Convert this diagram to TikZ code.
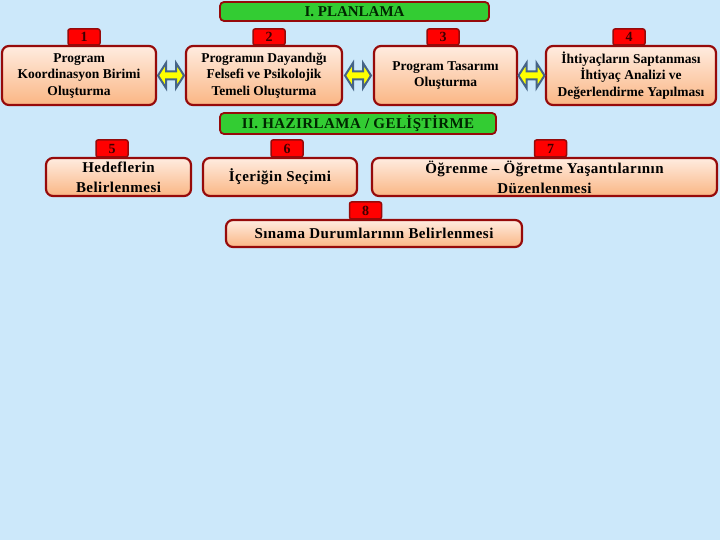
\documentclass[tikz,border=0pt]{standalone}
\usepackage{fontspec}
\setmainfont{Liberation Serif}
\newfontfamily\spacedfont{Liberation Serif}[LetterSpace=3]
\usetikzlibrary{calc}
\definecolor{bg}{RGB}{204,232,250}
\definecolor{dred}{RGB}{150,10,10}
\definecolor{peachtop}{RGB}{255,236,224}
\definecolor{peachbot}{RGB}{250,182,132}
\definecolor{tgreen}{RGB}{51,204,51}
\definecolor{arrowblue}{RGB}{70,100,135}
\definecolor{ayellow}{RGB}{255,255,0}
\definecolor{numcol}{RGB}{60,0,0}
\tikzset{
  box/.style={draw=dred, line width=2.2pt, rounded corners=7pt, top color=peachtop, bottom color=peachbot, align=center, inner sep=0pt, text=black},
  rowone/.style={box, font=\fontsize{13.5}{16.5}\selectfont\bfseries},
  rowtwo/.style={box, font=\spacedfont\fontsize{15}{20}\selectfont\bfseries},
  tabbox/.style={draw=dred, line width=1.5pt, fill=red, rounded corners=2pt, inner sep=0pt, minimum width=32pt, minimum height=16pt, font=\fontsize{14}{14}\selectfont\bfseries, text=numcol},
  titlebox/.style={draw=dred, line width=1.8pt, fill=tgreen, rounded corners=4pt, inner sep=0pt, font=\fontsize{15}{15}\selectfont\bfseries, text=black!85!green}
}
\tikzset{dbl/.style={draw=arrowblue, line width=2pt, fill=ayellow, line join=miter}}
\begin{document}
\begin{tikzpicture}[x=1pt,y=-1pt]
\fill[bg] (0,0) rectangle (720,540);
\useasboundingbox (0,0) rectangle (720,540);

% Title 1
\node[titlebox, minimum width=269pt, minimum height=19pt] (t1) at (354.5,11.5) {I. PLANLAMA};

% Tabs row 1
\node[tabbox] (n1) at (84,37) {1};
\node[tabbox] (n2) at (269,37) {2};
\node[tabbox] (n3) at (443,37) {3};
\node[tabbox] (n4) at (629,37) {4};

% Boxes row 1
\node[rowone, minimum width=154pt, minimum height=59pt] (b1) at (79,75.5) {Program\\Koordinasyon Birimi\\Oluşturma};
\node[rowone, minimum width=156pt, minimum height=59pt] (b2) at (264,75.5) {Programın Dayandığı\\Felsefi ve Psikolojik\\Temeli Oluşturma};
\node[rowone, minimum width=143pt, minimum height=59pt] (b3) at (445.5,75.5) {Program Tasarımı\\Oluşturma};
\node[rowone, minimum width=170pt, minimum height=59pt] (b4) at (631,75.5) {İhtiyaçların Saptanması\\İhtiyaç Analizi ve\\Değerlendirme Yapılması};

% Double arrows
\foreach \a/\b in {b1/b2, b2/b3, b3/b4}{
  \coordinate (m) at ($(\a.east)!0.5!(\b.west)$);
  \draw[dbl, shift={(m)}] (-13,0) -- (-5,-12.5) -- (-5,-4) -- (5,-4) -- (5,-12.5) -- (13,0) -- (5,12.5) -- (5,4) -- (-5,4) -- (-5,12.5) -- cycle;
}

% Title 2
\node[titlebox, minimum width=276pt, minimum height=21pt, font=\spacedfont\fontsize{15}{15}\selectfont\bfseries] (t2) at (358,123.5) {II. HAZIRLAMA / GELİŞTİRME};

% Tabs row 2
\node[tabbox, minimum height=17pt] (n5) at (112,148.5) {5};
\node[tabbox, minimum height=17pt] (n6) at (287,148.5) {6};
\node[tabbox, minimum height=17pt] (n7) at (550.5,148.5) {7};
\node[tabbox, minimum height=17pt] (n8) at (365.5,210.5) {8};

% Boxes row 2
\node[rowtwo, minimum width=145pt, minimum height=38pt] (b5) at (118.5,177) {Hedeflerin\\Belirlenmesi};
\node[rowtwo, minimum width=154pt, minimum height=38pt] (b6) at (280,177) {İçeriğin Seçimi};
\node[rowtwo, minimum width=345pt, minimum height=38pt] (b7) at (544.5,177) {Öğrenme – Öğretme Yaşantılarının\\Düzenlenmesi};
\node[rowtwo, minimum width=296pt, minimum height=27pt] (b8) at (374,233.5) {Sınama Durumlarının Belirlenmesi};
\end{tikzpicture}
\end{document}
